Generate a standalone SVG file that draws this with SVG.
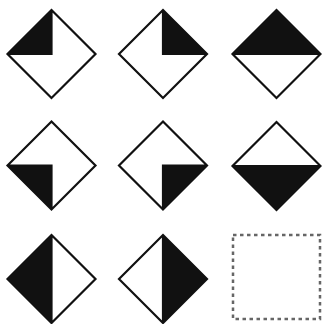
<svg xmlns="http://www.w3.org/2000/svg" width="322" height="324" viewBox="0 0 322 324">
<style>
.o{fill:none;stroke:#111;stroke-width:2.2;stroke-linejoin:miter}
.b{fill:#111;stroke:none}
.d{fill:none;stroke:#666;stroke-width:2.5;stroke-dasharray:3.5 3.5}
</style>
<rect width="322" height="324" fill="#fff"/>
<g id="n1" transform="translate(51.5,54)">
<path class="b" d="M0,-44 L-44,0 L0,0 Z"/>
<path class="o" d="M0,-44 L44,0 L0,44 L-44,0 Z M0,-44 L0,0 L-44,0"/>
</g>
<g id="n2" transform="translate(163,54)">
<path class="b" d="M0,-44 L44,0 L0,0 Z"/>
<path class="o" d="M0,-44 L44,0 L0,44 L-44,0 Z M0,-44 L0,0 L44,0"/>
</g>
<g id="n3" transform="translate(276.5,54)">
<path class="b" d="M0,-44 L44,0 L-44,0 Z"/>
<path class="o" d="M0,-44 L44,0 L0,44 L-44,0 Z M-44,0 L44,0"/>
</g>
<g id="n4" transform="translate(51.5,165.5)">
<path class="b" d="M-44,0 L0,0 L0,44 Z"/>
<path class="o" d="M0,-44 L44,0 L0,44 L-44,0 Z M-44,0 L0,0 L0,44"/>
</g>
<g id="n5" transform="translate(163,165.5)">
<path class="b" d="M44,0 L0,0 L0,44 Z"/>
<path class="o" d="M0,-44 L44,0 L0,44 L-44,0 Z M44,0 L0,0 L0,44"/>
</g>
<g id="n6" transform="translate(276.5,166)">
<path class="b" d="M-44,0 L44,0 L0,44 Z"/>
<path class="o" d="M0,-44 L44,0 L0,44 L-44,0 Z M-44,0 L44,0"/>
</g>
<g id="n7" transform="translate(51.5,279)">
<path class="b" d="M0,-44 L-44,0 L0,44 Z"/>
<path class="o" d="M0,-44 L44,0 L0,44 L-44,0 Z M0,-44 L0,44"/>
</g>
<g id="n8" transform="translate(163,279)">
<path class="b" d="M0,-44 L44,0 L0,44 Z"/>
<path class="o" d="M0,-44 L44,0 L0,44 L-44,0 Z M0,-44 L0,44"/>
</g>
<g id="n9">
<rect class="d" x="233" y="235" width="87" height="84"/>
</g>
<g id="connectors"/>
</svg>
